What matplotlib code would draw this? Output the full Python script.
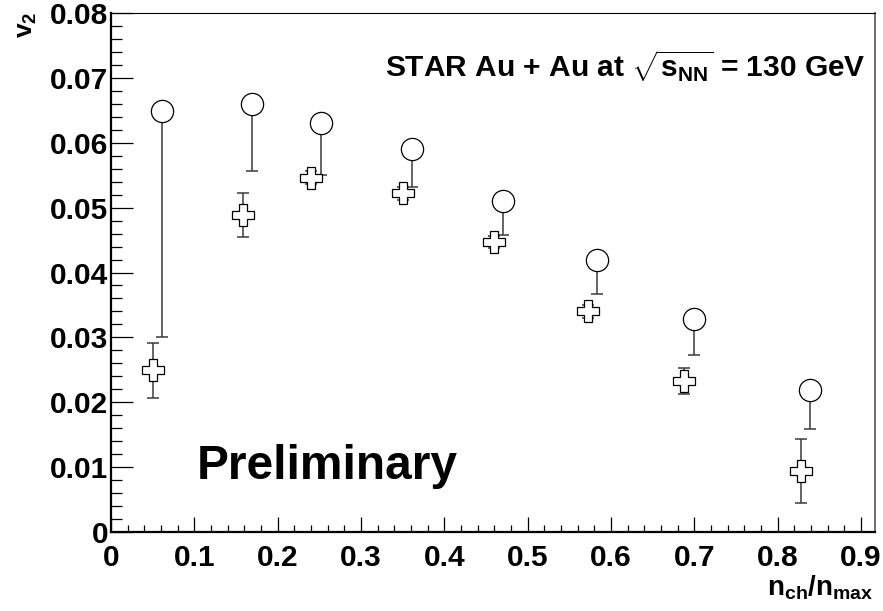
import matplotlib
matplotlib.use('Agg')
import matplotlib.pyplot as plt
from matplotlib.ticker import FixedLocator, FixedFormatter, MultipleLocator

plt.rcParams['font.family'] = ['Liberation Sans', 'DejaVu Sans']
plt.rcParams['font.weight'] = 'bold'
plt.rcParams['mathtext.fontset'] = 'custom'
plt.rcParams['mathtext.rm'] = 'Liberation Sans:bold'
plt.rcParams['mathtext.it'] = 'Liberation Sans:bold'
plt.rcParams['mathtext.bf'] = 'Liberation Sans:bold'
plt.rcParams['mathtext.sf'] = 'Liberation Sans:bold'

# ---- data ----
circ_x = [0.061, 0.169, 0.252, 0.361, 0.470, 0.583, 0.699, 0.839]
circ_y = [0.0649, 0.0659, 0.0630, 0.0590, 0.0510, 0.0419, 0.0329, 0.0219]
circ_err_low = [0.0348, 0.0102, 0.0080, 0.0058, 0.0052, 0.0052, 0.0056, 0.0061]

cross_x = [0.050, 0.158, 0.240, 0.350, 0.459, 0.572, 0.688, 0.828]
cross_y = [0.0249, 0.0488, 0.0546, 0.0522, 0.0447, 0.0340, 0.0233, 0.0094]
cross_err = [0.0043, 0.0034, 0.0010, 0.0010, 0.0010, 0.0010, 0.0020, 0.0050]

x_ticks = [0, 0.1, 0.2, 0.3, 0.4, 0.5, 0.6, 0.7, 0.8, 0.9]
x_tick_labels = ['0', '0.1', '0.2', '0.3', '0.4', '0.5', '0.6', '0.7', '0.8', '0.9']
y_ticks = [0, 0.01, 0.02, 0.03, 0.04, 0.05, 0.06, 0.07, 0.08]
y_tick_labels = ['0', '0.01', '0.02', '0.03', '0.04', '0.05', '0.06', '0.07', '0.08']

title_text = r'STAR Au + Au at $\sqrt{\mathrm{s}_{\mathrm{NN}}}$ = 130 GeV'
prelim_text = 'Preliminary'
xlabel_text = r'$\mathrm{n}_{\mathrm{ch}}/\mathrm{n}_{\mathrm{max}}$'
ylabel_text = r'$\mathrm{v}_{2}$'

W, H = 883, 611
fig = plt.figure(figsize=(W / 100, H / 100), dpi=100)
ax = fig.add_axes([111 / W, 79 / H, 764 / W, 519 / H])

ax.set_xlim(0, 0.9168)
ax.set_ylim(0, 0.08)

err_color = '#3a3a3a'
# circles: lower errors only
ax.errorbar(circ_x, circ_y, yerr=[circ_err_low, [0] * len(circ_y)], fmt='none',
            ecolor=err_color, elinewidth=1.1, capsize=4.3, capthick=1.1, zorder=2)
ax.plot(circ_x, circ_y, linestyle='none', marker='o', markersize=16,
        markerfacecolor='white', markeredgecolor='black', markeredgewidth=0.9, zorder=4)

# crosses: symmetric errors
ax.errorbar(cross_x, cross_y, yerr=cross_err, fmt='none',
            ecolor=err_color, elinewidth=1.1, capsize=4.3, capthick=1.1, zorder=2)
ax.plot(cross_x, cross_y, linestyle='none', marker='P', markersize=16,
        markerfacecolor='white', markeredgecolor='black', markeredgewidth=0.9, zorder=4)

# ticks
ax.xaxis.set_major_locator(FixedLocator(x_ticks))
ax.xaxis.set_major_formatter(FixedFormatter(x_tick_labels))
ax.xaxis.set_minor_locator(MultipleLocator(0.02))
ax.yaxis.set_major_locator(FixedLocator(y_ticks))
ax.yaxis.set_major_formatter(FixedFormatter(y_tick_labels))
ax.yaxis.set_minor_locator(MultipleLocator(0.002))

ax.tick_params(axis='both', which='both', direction='in', top=False, right=False,
               color='black')
ax.tick_params(axis='y', which='major', length=16, width=0.9, pad=2, labelsize=21.5)
ax.tick_params(axis='y', which='minor', length=8, width=0.9)
ax.tick_params(axis='x', which='major', length=11, width=0.9, pad=8.5, labelsize=21.5)
ax.tick_params(axis='x', which='minor', length=4.8, width=0.9)
for lab in ax.get_xticklabels() + ax.get_yticklabels():
    lab.set_fontweight('bold')

ax.spines['left'].set_linewidth(1.6)
ax.spines['bottom'].set_linewidth(1.6)
ax.spines['top'].set_linewidth(0.8)
ax.spines['top'].set_color('black')
ax.spines['right'].set_linewidth(1.2)
ax.spines['right'].set_color('#555555')

# texts
fig.text(866 / W, 1 - 77 / H, title_text, ha='right', va='baseline',
         fontsize=21.5, fontweight='bold')
fig.text(197 / W, 1 - 479 / H, prelim_text, ha='left', va='baseline',
         fontsize=34.5, fontweight='bold')
fig.text(873 / W, 1 - 595 / H, xlabel_text, ha='right', va='baseline',
         fontsize=20, fontweight='bold')
fig.text(27 / W, 1 - 12 / H, ylabel_text, ha='center', va='top', rotation=90,
         fontsize=19, fontweight='bold')

fig.savefig('out.png', dpi=100)
